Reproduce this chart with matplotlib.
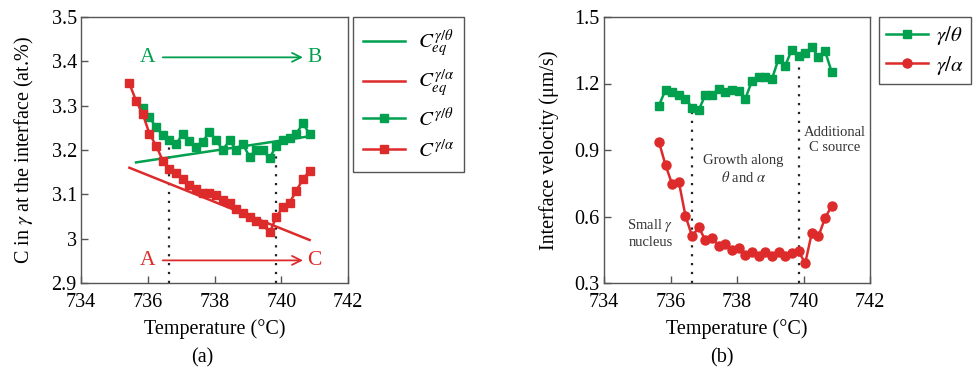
import matplotlib
matplotlib.use("Agg")
import matplotlib.pyplot as plt

plt.rcParams['font.family'] = ['Liberation Serif', 'DejaVu Serif']
plt.rcParams['mathtext.fontset'] = 'stix'

GREEN = '#00A04F'
RED = '#DD2B2B'
SPINE = '#555555'

# (a) carbon content at the interface
temp_theta_a = [735.85, 736.05, 736.25, 736.45, 736.65, 736.85, 737.05, 737.25, 737.45,
                737.65, 737.85, 738.05, 738.25, 738.45, 738.65, 738.85, 739.05, 739.25,
                739.45, 739.65, 739.85, 740.05, 740.25, 740.45, 740.65, 740.85]
c_theta = [3.294, 3.274, 3.251, 3.234, 3.222, 3.213, 3.237, 3.221, 3.206, 3.219, 3.241,
           3.222, 3.200, 3.222, 3.200, 3.213, 3.185, 3.200, 3.200, 3.181, 3.210, 3.222,
           3.228, 3.237, 3.260, 3.236]
temp_alpha_a = [735.45, 735.65] + temp_theta_a
c_alpha = [3.350, 3.311, 3.281, 3.237, 3.210, 3.176, 3.158, 3.147, 3.134, 3.122, 3.112,
           3.104, 3.102, 3.098, 3.088, 3.081, 3.067, 3.059, 3.049, 3.040, 3.032, 3.014,
           3.048, 3.072, 3.081, 3.108, 3.134, 3.153]
eq_theta_t = [735.65, 740.85]
eq_theta_c = [3.172, 3.231]
eq_alpha_t = [735.45, 740.85]
eq_alpha_c = [3.160, 2.997]

# (b) interface velocity
temp_b = [735.65, 735.85, 736.05, 736.25, 736.45, 736.65, 736.85, 737.05, 737.25,
          737.45, 737.65, 737.85, 738.05, 738.25, 738.45, 738.65, 738.85, 739.05,
          739.25, 739.45, 739.65, 739.85, 740.05, 740.25, 740.45, 740.65, 740.85]
v_theta = [1.100, 1.171, 1.161, 1.149, 1.131, 1.091, 1.081, 1.149, 1.149, 1.176, 1.161,
           1.171, 1.164, 1.131, 1.212, 1.231, 1.231, 1.220, 1.311, 1.281, 1.352, 1.326,
           1.337, 1.364, 1.319, 1.345, 1.251]
v_alpha = [0.938, 0.832, 0.745, 0.757, 0.603, 0.511, 0.551, 0.493, 0.505, 0.467, 0.478,
           0.448, 0.456, 0.425, 0.440, 0.421, 0.440, 0.421, 0.440, 0.421, 0.437, 0.445,
           0.388, 0.526, 0.511, 0.594, 0.648]

x_ticks = [734, 736, 738, 740, 742]
y_ticks_a = [2.9, 3.0, 3.1, 3.2, 3.3, 3.4, 3.5]
y_labels_a = ['2.9', '3', '3.1', '3.2', '3.3', '3.4', '3.5']
y_ticks_b = [0.3, 0.6, 0.9, 1.2, 1.5]
y_labels_b = ['0.3', '0.6', '0.9', '1.2', '1.5']

# stage boundaries: (temperature, top of the dotted line) for each panel
bounds_a = [(736.65, 3.222), (739.85, 3.210)]
bounds_b = [(736.66, 1.091), (739.86, 1.326)]

FS = 14.5

fig = plt.figure(figsize=(9.76, 3.70), dpi=100)
ax1 = fig.add_axes([81 / 976, 1 - 283 / 370, 267 / 976, 266 / 370])
ax2 = fig.add_axes([604 / 976, 1 - 283 / 370, 266 / 976, 266 / 370])


def style_axes(ax):
    for s in ax.spines.values():
        s.set_color(SPINE)
        s.set_linewidth(1.0)
    ax.tick_params(direction='in', length=5, width=1, color=SPINE,
                   labelsize=FS, top=False, right=False)
    ax.tick_params(axis='x', pad=7)
    ax.tick_params(axis='y', pad=3)
    ax.set_xlim(734, 742)
    ax.set_xticks(x_ticks)
    ax.set_xlabel('Temperature (°C)', fontsize=FS, labelpad=5)


# ---- panel (a)
style_axes(ax1)
ax1.set_ylim(2.9, 3.5)
ax1.set_yticks(y_ticks_a)
ax1.set_yticklabels(y_labels_a)
ax1.set_ylabel(r'C in $\gamma$ at the interface (at.%)', fontsize=FS, labelpad=11)

for t, top in bounds_a:
    ax1.plot([t, t], [2.9, top], color='#222222', lw=1.6, ls=(0, (1, 3)), zorder=1)

ax1.plot(eq_theta_t, eq_theta_c, color=GREEN, lw=1.8, label=r'$C_{eq}^{\gamma/\theta}$')
ax1.plot(eq_alpha_t, eq_alpha_c, color=RED, lw=1.8, label=r'$C_{eq}^{\gamma/\alpha}$')
ax1.plot(temp_theta_a, c_theta, color=GREEN, lw=1.8, marker='s', ms=6,
         label=r'$C^{\gamma/\theta}$')
ax1.plot(temp_alpha_a, c_alpha, color=RED, lw=1.8, marker='s', ms=6,
         label=r'$C^{\gamma/\alpha}$')

for y, end, col in [(3.409, 'B', GREEN), (2.951, 'C', RED)]:
    ax1.text(736.0, y, 'A', color=col, fontsize=FS + 1, ha='center', va='center')
    ax1.text(741.0, y, end, color=col, fontsize=FS + 1, ha='center', va='center')
    ax1.annotate('', xy=(740.65, y), xytext=(736.45, y),
                 arrowprops=dict(arrowstyle='->', color=col, lw=1.3,
                                 shrinkA=0, shrinkB=0, mutation_scale=16))

leg1 = ax1.legend(loc='upper left', bbox_to_anchor=(353 / 976, 1 - 17 / 370),
                  bbox_transform=fig.transFigure, borderaxespad=0, fontsize=FS + 0.5,
                  handlelength=2.0, handletextpad=0.6, labelspacing=0.45,
                  fancybox=False, edgecolor=SPINE, framealpha=1, borderpad=0.5)
leg1.get_frame().set_linewidth(1.0)

# ---- panel (b)
style_axes(ax2)
ax2.set_ylim(0.3, 1.5)
ax2.set_yticks(y_ticks_b)
ax2.set_yticklabels(y_labels_b)
ax2.set_ylabel('Interface velocity (μm/s)', fontsize=FS, labelpad=11)

for t, top in bounds_b:
    ax2.plot([t, t], [0.3, top], color='#222222', lw=1.6, ls=(0, (1, 3)), zorder=1)

ax2.plot(temp_b, v_theta, color=GREEN, lw=1.8, marker='s', ms=6, label=r'$\gamma/\theta$')
ax2.plot(temp_b, v_alpha, color=RED, lw=1.8, marker='o', ms=6.5, label=r'$\gamma/\alpha$')

ax2.text(735.4, 0.525, 'Small $\\gamma$\nnucleus', fontsize=10.5, ha='center', va='center',
         color='#333333', linespacing=1.25)
ax2.text(738.2, 0.81, 'Growth along\n$\\theta$ and $\\alpha$', fontsize=10.5, ha='center',
         va='center', color='#333333', linespacing=1.25)
ax2.text(740.95, 0.945, 'Additional\nC source', fontsize=10.5, ha='center', va='center',
         color='#333333', linespacing=1.25)

leg2 = ax2.legend(loc='upper left', bbox_to_anchor=(879 / 976, 1 - 17 / 370),
                  bbox_transform=fig.transFigure, borderaxespad=0, fontsize=FS + 0.5,
                  handlelength=2.0, handletextpad=0.4, labelspacing=0.3,
                  fancybox=False, edgecolor=SPINE, framealpha=1, borderpad=0.35)
leg2.get_frame().set_linewidth(1.0)

fig.text(202 / 976, 1 - 358 / 370, '(a)', fontsize=FS, ha='center', va='center')
fig.text(722 / 976, 1 - 358 / 370, '(b)', fontsize=FS, ha='center', va='center')

fig.savefig('out.png', dpi=100)
